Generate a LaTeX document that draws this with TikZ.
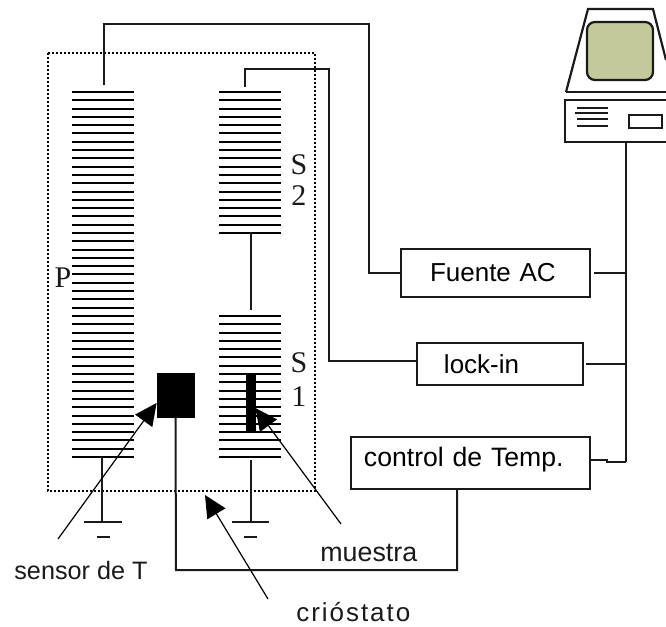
\documentclass[tikz,border=0pt]{standalone}
\usepackage{fontspec}
\setmainfont{Liberation Sans}
\newfontfamily\serifa{Liberation Serif}
\usetikzlibrary{arrows.meta,calc}
\definecolor{expInk}{HTML}{1A1A1A}
\definecolor{expScreen}{HTML}{C3C99A}
\tikzset{
  caja/.style n args={3}{draw=expInk, line width=1pt, anchor=west, inner xsep=#1, text width=#2, minimum height=#3, align=left, font=\fontsize{13}{15}\selectfont},
  hilo/.style={draw=expInk, line width=1pt},
  espira/.style={draw=black, line width=1pt},
  flecha/.style={-{Triangle[length=11pt,width=10.5pt]}, draw=black, line width=0.6pt},
  negro/.style={fill=black, draw=black, inner sep=0pt},
  rotulo/.style={font=\fontsize{13}{15}\selectfont, text=expInk, inner sep=0pt},
  letra/.style={font=\serifa\fontsize{15}{17}\selectfont, text=expInk, inner sep=0pt},
}
\begin{document}
\begin{tikzpicture}[x=0.5pt,y=-0.5pt]
  \useasboundingbox (0,0) rectangle (666,627);
  \draw[black, line width=0.8pt, dash pattern=on 1pt off 1pt] (48,53) rectangle (315,491);
  \foreach \n in {0,...,44} {\draw[espira] (72,{92+\n*8.295}) -- (134,{92+\n*8.295});}
  \foreach \n in {0,...,17} {
    \draw[espira] (219,{92+\n*8.295}) -- (281,{92+\n*8.295});
    \draw[espira] (219,{316+\n*8.295}) -- (281,{316+\n*8.295});
  }
  \node[negro, minimum width=18.5pt, minimum height=22pt] (sensor) at (175.5,395) {};
  \node[negro, minimum width=4.5pt, minimum height=29pt] (sample) at (250.5,402) {};
  \node[caja={14.5pt}{65.5pt}{24pt}] (fuente) at (400,273) {Fuente AC};
  \node[caja={13.5pt}{56pt}{21pt}] (lockin) at (416,364) {lock-in};
  \node[caja={6.5pt}{106.5pt}{26pt}, text depth=6pt, font=\fontsize{13.3}{15}\selectfont] (control) at (350,463) {control de Temp.};
  \node[letra] (labP) at (63,278) {P};
  \node[letra] (labSa) at (299,165) {S};
  \node[letra] (labSb) at (299,196) {2};
  \node[letra] (labSc) at (299,363) {S};
  \node[letra] (labSd) at (299,397) {1};
  \node[rotulo, anchor=west, font=\fontsize{12.6}{15}\selectfont] (labSensor) at (14,570) {sensor de T};
  \node[rotulo, anchor=west, font=\fontsize{13.4}{15}\selectfont] (labMuestra) at (320,553) {muestra};
  \node[rotulo, anchor=west, font=\addfontfeatures{LetterSpace=7.5}\fontsize{13}{15}\selectfont] (labCrio) at (296,612) {cri\'ostato};
  \coordinate (pTop) at (103.5,85);
  \coordinate (sTop) at (245,87);
  \coordinate (acTurn) at (369,24);
  \coordinate (liTurn) at (329,69);
  \coordinate (busTop) at (626,142);
  \coordinate (busBot) at (626,462);
  \coordinate (ctlKink) at (607,460);
  \coordinate (ctlKinkb) at (607,462);
  \coordinate (tiA) at (251,232);
  \coordinate (tiB) at (251,310);
  \coordinate (gndP) at (102,457);
  \coordinate (gndPb) at (102,522);
  \coordinate (gndS) at (251,460);
  \coordinate (gndSb) at (251,522);
  \coordinate (sensorTail) at (58,539);
  \coordinate (sensorTurn) at (176,570);
  \coordinate (ctlTurn) at (457,570);
  \coordinate (muestraTail) at (341,524);
  \coordinate (crioTail) at (268,599);
  \coordinate (crioTip) at (205,495);
  \draw[hilo] (pTop) |- (acTurn) |- (fuente.west);
  \draw[hilo] (sTop) |- (liTurn) |- ([yshift=1.5pt]lockin.west);
  \draw[hilo] (tiA) -- (tiB);
  \draw[hilo] (busTop) -- (busBot);
  \draw[hilo] ([xshift=1.5pt]fuente.east) -- (fuente.east -| busTop);
  \draw[hilo] ([xshift=1pt]lockin.east) -- (lockin.east -| busTop);
  \draw[hilo] (control.east |- ctlKink) -- (ctlKink) -- (ctlKinkb) -- (busBot);
  \draw[hilo] (sensor.south) -- (sensorTurn) -- (ctlTurn) -- (control.south -| ctlTurn);
  \draw[hilo] (gndP) -- (gndPb);
  \draw[hilo] (84,522) -- (122,522);
  \draw[hilo] (97,537) -- (110,537);
  \draw[hilo] (gndS) -- (gndSb);
  \draw[hilo] (232,522) -- (269,522);
  \draw[hilo] (244,537) -- (257,537);
  \draw[flecha] (sensorTail) -- ([yshift=-4pt]sensor.west);
  \draw[flecha] (muestraTail) -- ([yshift=-3pt]sample.east);
  \draw[flecha] (crioTail) -- (crioTip);
  \draw[hilo, line width=1.1pt] (566,92) -- (588,9) -- (653,9) -- (666,60);
  \draw[hilo] (566,92) -- (666,92);
  \draw[hilo, line width=1.1pt, fill=expScreen, rounded corners=4pt] (587,22) rectangle (653,80);
  \draw[hilo] (666,100) -- (565,100) -- (565,142) -- (666,142);
  \draw[hilo] (577,108) -- (608,108);
  \draw[hilo, line width=1.4pt] (575,113) -- (608,113);
  \draw[hilo] (577,119) -- (608,119);
  \draw[hilo] (577,126) -- (608,126);
  \draw[hilo] (629,115) rectangle (662,128);
\end{tikzpicture}
\end{document}
